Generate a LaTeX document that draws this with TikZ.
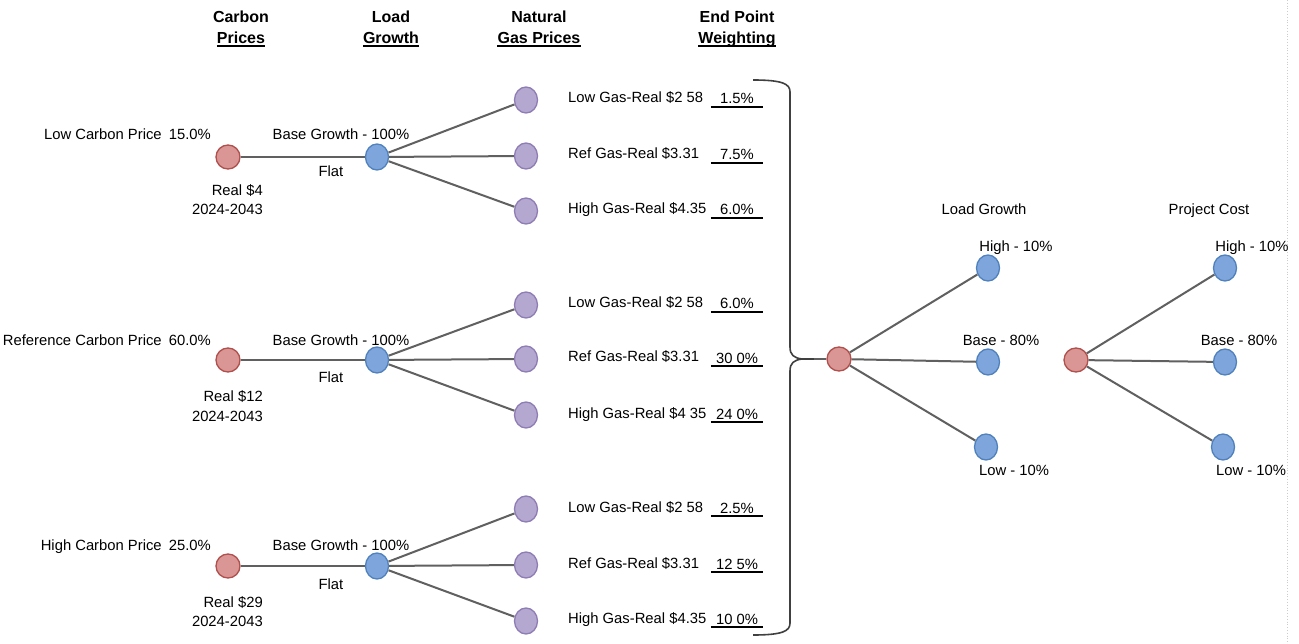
\documentclass[tikz,border=0pt]{standalone}
\usepackage{fontspec}
\setmainfont{Liberation Sans}
\usetikzlibrary{shapes.geometric}
\definecolor{edgegray}{HTML}{606060}
\definecolor{braceC}{HTML}{404040}
\definecolor{redF}{HTML}{D99694}
\definecolor{redB}{HTML}{B0504D}
\definecolor{blueF}{HTML}{7EA6DC}
\definecolor{blueB}{HTML}{4F81BD}
\definecolor{purF}{HTML}{B4A7D0}
\definecolor{purB}{HTML}{8E7CB4}
\begin{document}
\begin{tikzpicture}[x=1pt,y=-1pt,
  lbl/.style={font=\fontsize{14.8}{17}\selectfont, inner sep=0pt, anchor=base},
  hdr/.style={font=\fontsize{16}{19}\selectfont\bfseries, inner sep=0pt, anchor=base},
  pct/.style={font=\fontsize{14.8}{17}\selectfont, inner sep=0pt, anchor=base, minimum width=52pt},
  uline/.style={line width=2pt, black},
  edge/.style={draw=edgegray, line width=2pt},
  rn/.style={ellipse, draw=redB, fill=redF, line width=1.3pt, minimum width=24pt, minimum height=24pt, inner sep=0pt},
  bn/.style={ellipse, draw=blueB, fill=blueF, line width=1.3pt, minimum width=23pt, minimum height=26pt, inner sep=0pt},
  pn/.style={ellipse, draw=purB, fill=purF, line width=1.3pt, minimum width=23pt, minimum height=26pt, inner sep=0pt},
  bracestyle/.style={draw=braceC, line width=1.6pt, line join=round}
]
\useasboundingbox (0,0) rectangle (1299,644);
\fill[white] (0,0) rectangle (1299,644);
\draw[dotted, gray!40, line width=0.8pt] (1287,0) -- (1287,644);

% headers
\node[hdr] (h1a) at (241,23) {Carbon};
\node[hdr] (h1b) at (241,44) {Prices};
\node[hdr] (h2a) at (391,23) {Load};
\node[hdr] (h2b) at (391,44) {Growth};
\node[hdr] (h3a) at (539,23) {Natural};
\node[hdr] (h3b) at (539,44) {Gas Prices};
\node[hdr] (h4a) at (737,23) {End Point};
\node[hdr] (h4b) at (737,44) {Weighting};
\foreach \h in {h1b,h2b,h3b,h4b}
  \draw[uline] ([yshift=-2.5pt]\h.base west) -- ([yshift=-2.5pt]\h.base east);

% ---------- row 1 ----------
\node[rn] (c1) at (228,157) {};
\node[bn] (g1) at (377,157) {};
\node[pn] (p11) at (526,100) {};
\node[pn] (p12) at (526,156) {};
\node[pn] (p13) at (526,211) {};
\draw[edge] (c1) -- (g1);
\draw[edge] (g1) -- (p11);
\draw[edge] (g1) -- (p12);
\draw[edge] (g1) -- (p13);
\node[lbl, anchor=base east] (lc1) at (211,140) {Low Carbon Price\kern3pt\ 15.0\%};
\node[lbl] (lg1) at (341,140) {Base Growth - 100\%};
\node[lbl] (lf1) at (331,177) {Flat};
\node[lbl, anchor=base east] (lr1) at (263,196) {Real \$4};
\node[lbl, anchor=base east] (ly1) at (263,215) {2024-2043};
\node[lbl, anchor=base west] (n11) at (568,103) {Low Gas-Real \$2 58};
\node[lbl, anchor=base west] (n12) at (568,159) {Ref Gas-Real \$3.31};
\node[lbl, anchor=base west] (n13) at (568,214) {High Gas-Real \$4.35};
\node[pct] (w11) at (737,104) {1.5\%};
\node[pct] (w12) at (737,160) {7.5\%};
\node[pct] (w13) at (737,215) {6.0\%};

% ---------- row 2 ----------
\node[rn] (c2) at (228,360) {};
\node[bn] (g2) at (377,360) {};
\node[pn] (p21) at (526,305) {};
\node[pn] (p22) at (526,359) {};
\node[pn] (p23) at (526,415) {};
\draw[edge] (c2) -- (g2);
\draw[edge] (g2) -- (p21);
\draw[edge] (g2) -- (p22);
\draw[edge] (g2) -- (p23);
\node[lbl, anchor=base east] (lc2) at (211,346) {Reference Carbon Price\kern3pt\ 60.0\%};
\node[lbl] (lg2) at (341,346) {Base Growth - 100\%};
\node[lbl] (lf2) at (331,383) {Flat};
\node[lbl, anchor=base east] (lr2) at (263,402) {Real \$12};
\node[lbl, anchor=base east] (ly2) at (263,421) {2024-2043};
\node[lbl, anchor=base west] (n21) at (568,308) {Low Gas-Real \$2 58};
\node[lbl, anchor=base west] (n22) at (568,362) {Ref Gas-Real \$3.31};
\node[lbl, anchor=base west] (n23) at (568,418) {High Gas-Real \$4 35};
\node[pct] (w21) at (737,309) {6.0\%};
\node[pct] (w22) at (737,363) {30 0\%};
\node[pct] (w23) at (737,419) {24 0\%};

% ---------- row 3 ----------
\node[rn] (c3) at (228,566) {};
\node[bn] (g3) at (377,566) {};
\node[pn] (p31) at (526,509) {};
\node[pn] (p32) at (526,565) {};
\node[pn] (p33) at (526,621) {};
\draw[edge] (c3) -- (g3);
\draw[edge] (g3) -- (p31);
\draw[edge] (g3) -- (p32);
\draw[edge] (g3) -- (p33);
\node[lbl, anchor=base east] (lc3) at (211,550) {High Carbon Price\kern3pt\ 25.0\%};
\node[lbl] (lg3) at (341,550) {Base Growth - 100\%};
\node[lbl] (lf3) at (331,589) {Flat};
\node[lbl, anchor=base east] (lr3) at (263,607) {Real \$29};
\node[lbl, anchor=base east] (ly3) at (263,626) {2024-2043};
\node[lbl, anchor=base west] (n31) at (568,512) {Low Gas-Real \$2 58};
\node[lbl, anchor=base west] (n32) at (568,568) {Ref Gas-Real \$3.31};
\node[lbl, anchor=base west] (n33) at (568,623) {High Gas-Real \$4.35};
\node[pct] (w31) at (737,513) {2.5\%};
\node[pct] (w32) at (737,569) {12 5\%};
\node[pct] (w33) at (737,624) {10 0\%};

\foreach \w in {w11,w12,w13,w21,w22,w23,w31,w32,w33}
  \draw[uline] ([yshift=-3pt]\w.base west) -- ([yshift=-3pt]\w.base east);

% ---------- brace ----------
\coordinate (btip) at (814,359);
\draw[bracestyle] (753,80) .. controls (783,80) and (790,84) .. (790,92)
   -- (790,347) .. controls (790,355) and (794,358) .. (802,359) -- (btip);
\draw[bracestyle] (753,635) .. controls (783,635) and (790,631) .. (790,623)
   -- (790,371) .. controls (790,363) and (794,360) .. (802,359);

% ---------- right trees ----------
\node[rn] (d0) at (839,359) {};
\draw[edge] (btip) -- (d0);
\node[bn] (lh) at (988,268) {};
\node[bn] (lb) at (988,362) {};
\node[bn] (ll) at (986,447) {};
\draw[edge] (d0) -- (lh);
\draw[edge] (d0) -- (lb);
\draw[edge] (d0) -- (ll);
\node[lbl] (tlg) at (984,215) {Load Growth};
\node[lbl] (tlh) at (1016,252) {High - 10\%};
\node[lbl] (tlb) at (1001,346) {Base - 80\%};
\node[lbl] (tll) at (1014,475) {Low - 10\%};

\node[rn] (e0) at (1076,360) {};
\node[bn] (ph) at (1225,268) {};
\node[bn] (pb) at (1225,362) {};
\node[bn] (pl) at (1223,447) {};
\draw[edge] (e0) -- (ph);
\draw[edge] (e0) -- (pb);
\draw[edge] (e0) -- (pl);
\node[lbl] (tpc) at (1209,215) {Project Cost};
\node[lbl] (tph) at (1252,252) {High - 10\%};
\node[lbl] (tpb) at (1239,346) {Base - 80\%};
\node[lbl] (tpl) at (1251,475) {Low - 10\%};
\end{tikzpicture}
\end{document}
